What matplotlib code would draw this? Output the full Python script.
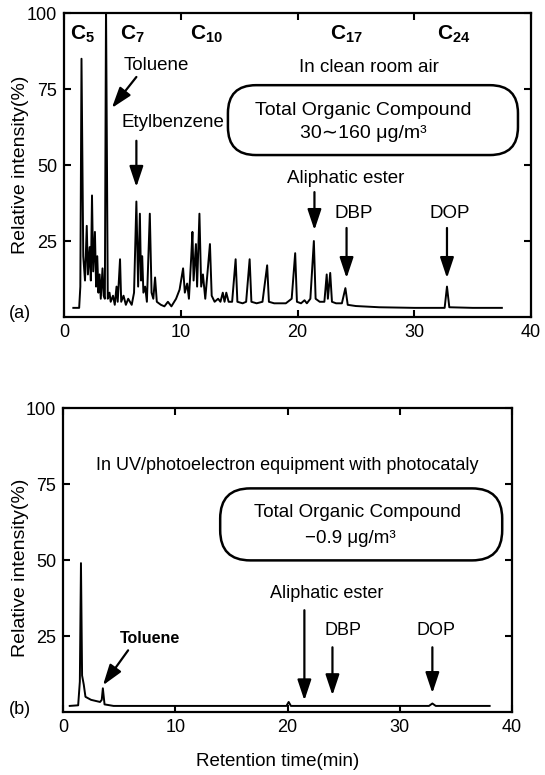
import numpy as np
import matplotlib.pyplot as plt
from matplotlib.patches import FancyBboxPatch

plt.rcParams['font.family'] = ['Liberation Sans', 'DejaVu Sans']
plt.rcParams['mathtext.fontset'] = 'custom'
plt.rcParams['mathtext.rm'] = 'Liberation Sans'
plt.rcParams['mathtext.bf'] = 'Liberation Sans:bold'

# (a) clean room air chromatogram, vertices
top_rt = [0.8, 1.3, 1.4, 1.5, 1.65, 1.8, 1.95, 2.05, 2.2, 2.3, 2.4, 2.5, 2.65, 2.75,
          2.85, 2.95, 3.05, 3.15, 3.3, 3.4, 3.5, 3.6, 3.75, 3.9, 4.0, 4.2, 4.35, 4.5,
          4.6, 4.8, 4.9, 5.1, 5.3, 5.5, 5.8, 6.0, 6.2, 6.35, 6.5, 6.6, 6.7, 6.8, 6.95,
          7.1, 7.35, 7.5, 7.65, 7.8, 7.95, 8.3, 8.6, 8.9, 9.2, 9.6, 9.9, 10.2, 10.35,
          10.55, 10.7, 10.9, 11.0, 11.1, 11.3, 11.4, 11.6, 11.75, 11.9, 12.1, 12.5,
          12.65, 12.9, 13.2, 13.4, 13.6, 13.75, 13.9, 14.1, 14.4, 14.7, 14.85, 15.3,
          15.6, 15.9, 16.05, 16.5, 17.0, 17.4, 17.55, 18.0, 18.5, 19.0, 19.5, 19.8,
          19.95, 20.3, 20.6, 20.8, 21.1, 21.4, 21.55, 21.9, 22.3, 22.5, 22.6, 22.8,
          22.95, 23.3, 23.8, 24.1, 24.3, 25.0, 27.0, 30.0, 32.6, 32.8, 33.0, 35.0, 37.5]
top_int = [3, 3, 10, 85, 20, 12, 30, 14, 23, 12, 40, 15, 28, 10,
           20, 8, 14, 6, 16, 7, 6, 103, 6, 8, 5, 7, 4, 10,
           5, 19, 5, 7, 4, 6, 4, 8, 38, 10, 34, 12, 20, 8, 10,
           5, 34, 8, 6, 13, 5, 4, 3.5, 5, 3.5, 6, 9, 16, 8,
           11, 6, 20, 28, 12, 24, 10, 34, 10, 14, 6, 24,
           7, 5, 6, 5, 8, 5, 8, 5, 5, 19, 5, 4.5,
           5, 19, 5, 4.5, 5, 17, 5, 4.5, 4.5, 4.5, 6, 21,
           5, 4.5, 5.5, 4.5, 6, 25, 6, 5, 5, 14, 6, 14.5,
           5, 4.5, 4.5, 9.5, 4, 3.6, 3.2, 3, 3, 10, 3.2, 3, 3]

# (b) UV/photoelectron equipment chromatogram
bot_rt = [0.6, 1.35, 1.5, 1.6, 1.7, 1.85, 2.0, 2.5, 3.3, 3.45, 3.55, 3.7, 4.5,
          10.0, 19.9, 20.1, 20.3, 32.6, 32.9, 33.2, 38.0]
bot_int = [2, 2.2, 10, 49, 12, 9, 5, 4, 3.3, 4, 7.8, 2.5, 2,
           2, 2, 3.3, 2, 2, 2.8, 2, 2]

xticks = [0, 10, 20, 30, 40]
yticks = [25, 50, 75, 100]
carbon_labels = ['5', '7', '10', '17', '24']
carbon_x = [1.6, 5.9, 12.2, 24.2, 33.4]

fig = plt.figure(figsize=(5.45, 7.75), dpi=100)
ax1 = fig.add_axes([0.1174, 0.591, 0.857, 0.392])
ax2 = fig.add_axes([0.1156, 0.0813, 0.824, 0.392])

for ax in (ax1, ax2):
    ax.set_xlim(0, 40)
    ax.set_ylim(0, 100)
    ax.set_xticks(xticks)
    ax.set_yticks(yticks)
    ax.tick_params(direction='in', top=True, right=True, length=5, width=1.5,
                   labelsize=13, pad=5)
    for s in ax.spines.values():
        s.set_linewidth(1.6)
    ax.set_ylabel('Relative intensity(%)', fontsize=14)

ax1.yaxis.set_label_coords(-0.075, 0.5)
ax2.yaxis.set_label_coords(-0.076, 0.474)

ax1.plot(top_rt, top_int, color='black', lw=1.4, clip_on=True)
ax2.plot(bot_rt, bot_int, color='black', lw=1.4)

arrow = dict(arrowstyle='-|>,head_length=0.9,head_width=0.3', color='black',
             lw=1.6, mutation_scale=14, shrinkA=0, shrinkB=0)
fs = 13.5

# ---- panel (a)
for lab, x in zip(carbon_labels, carbon_x):
    ax1.text(x, 93, r'C$_{\mathbf{' + lab + '}}$', ha='center', va='center',
             fontsize=15, fontweight='bold')
ax1.text(26.1, 82.2, 'In clean room air', ha='center', va='center', fontsize=fs)
ax1.text(7.9, 82.9, 'Toluene', ha='center', va='center', fontsize=fs)
ax1.annotate('', xy=(4.1, 68.8), xytext=(6.2, 79), arrowprops=arrow)
ax1.text(9.3, 64, 'Etylbenzene', ha='center', va='center', fontsize=fs)
ax1.annotate('', xy=(6.2, 42.8), xytext=(6.2, 58), arrowprops=arrow)
ax1.add_patch(FancyBboxPatch((0.351, 0.533), 0.621, 0.230,
                             boxstyle='round,pad=0,rounding_size=0.06',
                             transform=ax1.transAxes, mutation_aspect=1.536,
                             fill=False, lw=1.8, clip_on=False))
ax1.text(25.6, 68.1, 'Total Organic Compound', ha='center', va='center', fontsize=14)
ax1.text(25.6, 60.5, '30∼160 μg/m³', ha='center', va='center', fontsize=14)
ax1.text(24.1, 45.7, 'Aliphatic ester', ha='center', va='center', fontsize=fs)
ax1.annotate('', xy=(21.45, 28.6), xytext=(21.45, 41.1), arrowprops=arrow)
ax1.text(24.8, 34.2, 'DBP', ha='center', va='center', fontsize=fs)
ax1.annotate('', xy=(24.2, 12.8), xytext=(24.2, 29.3), arrowprops=arrow)
ax1.text(33.0, 34.2, 'DOP', ha='center', va='center', fontsize=fs)
ax1.annotate('', xy=(32.8, 12.8), xytext=(32.8, 29.3), arrowprops=arrow)

# ---- panel (b)
ax2.text(20.0, 81.2, 'In UV/photoelectron equipment with photocataly',
         ha='center', va='center', fontsize=13)
ax2.add_patch(FancyBboxPatch((0.350, 0.499), 0.628, 0.237,
                             boxstyle='round,pad=0,rounding_size=0.067',
                             transform=ax2.transAxes, mutation_aspect=1.477,
                             fill=False, lw=1.8, clip_on=False))
ax2.text(26.2, 65.7, 'Total Organic Compound', ha='center', va='center', fontsize=13.5)
ax2.text(25.6, 57.1, '−0.9 μg/m³', ha='center', va='center', fontsize=13.5)
ax2.text(23.5, 39.0, 'Aliphatic ester', ha='center', va='center', fontsize=13)
ax2.annotate('', xy=(21.5, 3.8), xytext=(21.5, 33.5), arrowprops=arrow)
ax2.text(24.9, 26.9, 'DBP', ha='center', va='center', fontsize=13)
ax2.annotate('', xy=(24.0, 5.5), xytext=(24.0, 21.3), arrowprops=arrow)
ax2.text(33.2, 26.9, 'DOP', ha='center', va='center', fontsize=13)
ax2.annotate('', xy=(32.9, 6.2), xytext=(32.9, 21.3), arrowprops=arrow)
ax2.text(7.75, 24.2, 'Toluene', ha='center', va='center', fontsize=11.5,
         fontweight='bold')
ax2.annotate('', xy=(3.56, 8.8), xytext=(5.8, 20.3), arrowprops=arrow)

ax2.set_xlabel('Retention time(min)', fontsize=13.5)
ax2.xaxis.set_label_coords(0.479, -0.135)

fig.text(0.037, 0.596, '(a)', ha='center', va='center', fontsize=13)
fig.text(0.037, 0.084, '(b)', ha='center', va='center', fontsize=13)

fig.savefig('out.png', dpi=100)
